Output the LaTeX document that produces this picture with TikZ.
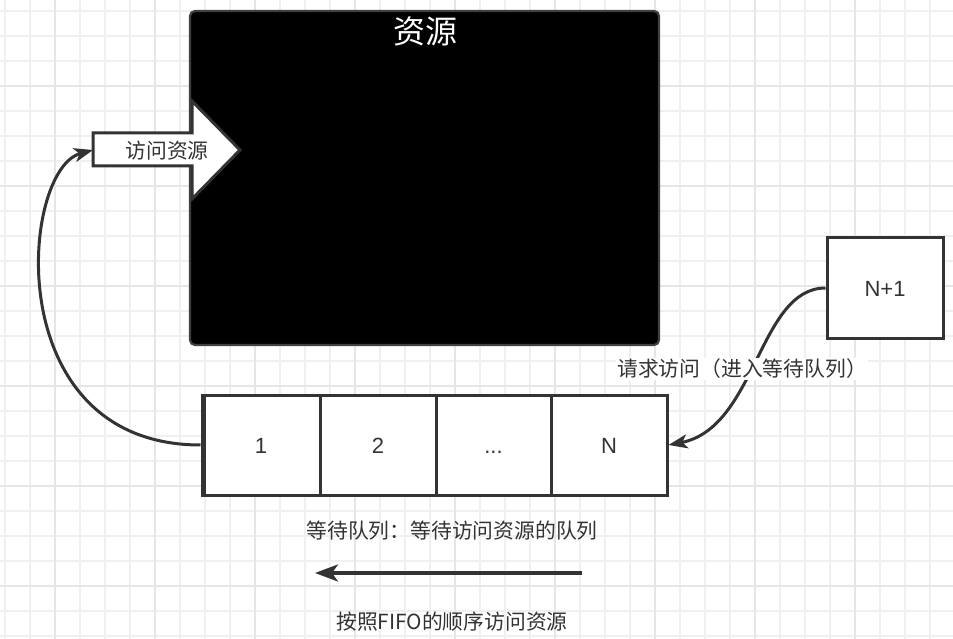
\documentclass[tikz,border=0pt]{standalone}
\usepackage{fontspec}
\setmainfont{Noto Sans CJK SC}
\newfontfamily\latinfont{Liberation Sans}
\usetikzlibrary{arrows.meta}
\definecolor{ink}{HTML}{333333}
\definecolor{gridminor}{HTML}{F0F0F0}
\definecolor{gridmajor}{HTML}{E6E6E6}
\tikzset{
  conn/.style={draw=ink,line width=3pt,-{Stealth[length=19pt,width=14pt,inset=5pt]}},
  cellbox/.style={draw=ink,line width=3pt,fill=white,minimum height=100pt,inner sep=0pt,text height=16pt,text depth=0pt,font=\latinfont\fontsize{22}{22}\selectfont,text=ink},
  lbl/.style={font=\fontsize{20.8}{21}\selectfont,text=ink,inner sep=1pt},
}
\begin{document}
\begin{tikzpicture}[x=1pt,y=-1pt]
\useasboundingbox (0,0) rectangle (953,639);
\fill[white] (0,0) rectangle (953,639);
% grid
\foreach \x in {5,30,...,955} {\draw[gridminor,line width=1.2pt] (\x,0) -- (\x,639);}
\foreach \y in {11,36,...,640} {\draw[gridminor,line width=1.2pt] (0,\y) -- (953,\y);}
\foreach \x in {55,155,...,955} {\draw[gridmajor,line width=1.2pt] (\x,0) -- (\x,639);}
\foreach \y in {86,186,...,640} {\draw[gridmajor,line width=1.2pt] (0,\y) -- (953,\y);}
% resource
\draw[fill=black,draw=black!75,line width=2.2pt,rounded corners=5pt] (190,11) rectangle (659,345);
\node[font=\fontsize{32}{32}\selectfont,text=white] (res) at (425,31) {资源};
% access arrow
\draw[fill=white,draw=ink,line width=3pt,line join=miter] (93,133) -- (192,133) -- (192,101) -- (240,150) -- (192,199) -- (192,166) -- (93,166) -- cycle;
\coordinate (arrtail) at (93,150);
\node[lbl] (acc) at (167,151) {访问资源};
% queue
\node[cellbox,minimum width=118pt] (c1) at (261,445) {1};
\node[cellbox,minimum width=116pt] (c2) at (378,445) {2};
\node[cellbox,minimum width=115pt] (c3) at (493.5,445) {...};
\node[cellbox,minimum width=116pt] (c4) at (609,445) {N};
\draw[ink,line width=4pt] (203.5,395) -- (203.5,495);
% N+1
\node[cellbox,minimum width=116pt] (np) at (885,288) {N+1};
% connectors
\draw[conn] (np.west) .. controls +(-67,0) and +(88,-17) .. (c4.east);
\node[lbl,fill=white] (reqlbl) at (742,369) {请求访问（进入等待队列）};
\draw[conn] (c1.west) .. controls +(-202,0) and +(-73,20) .. (arrtail);
% bottom
\node[lbl] (qdesc) at (452,531) {等待队列：等待访问资源的队列};
\coordinate (fs) at (582,573);
\coordinate (fe) at (315,573);
\draw[draw=ink,line width=3.2pt,-{Stealth[length=23pt,width=17pt,inset=6pt]}] (fs) -- (fe);
\node[lbl] (fifo) at (452,622) {按照FIFO的顺序访问资源};
\end{tikzpicture}
\end{document}
